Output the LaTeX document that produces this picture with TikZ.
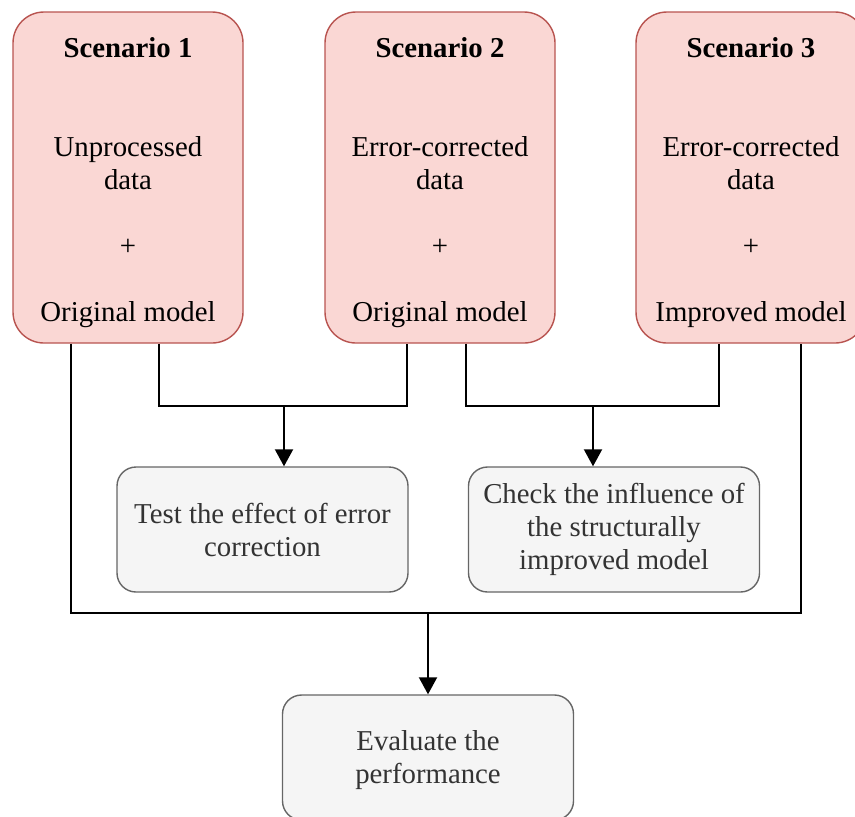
\documentclass[tikz,border=0pt]{standalone}
\usepackage{fontspec}
\setmainfont{Liberation Serif}
\usetikzlibrary{arrows.meta}
\definecolor{scenfill}{HTML}{FAD7D4}
\definecolor{scenline}{HTML}{B85450}
\definecolor{taskfill}{HTML}{F5F5F5}
\definecolor{taskline}{HTML}{666666}
\definecolor{tasktext}{HTML}{333333}

\begin{document}
\begin{tikzpicture}[x=0.5pt,y=-0.5pt,
    scenario/.style={draw=scenline,fill=scenfill,line width=0.7pt,rounded corners=15.5pt,
        minimum width=115pt,minimum height=165.5pt,align=center,inner sep=0pt,
        font=\fontsize{14.4}{16.5}\selectfont},
    task/.style={draw=taskline,fill=taskfill,text=tasktext,line width=0.7pt,rounded corners=9.5pt,
        minimum width=145.5pt,minimum height=62.5pt,align=center,inner sep=0pt,
        font=\fontsize{14.4}{16.5}\selectfont},
    wire/.style={line width=1pt},
    arrow/.style={wire,-{Triangle[length=8.5pt,width=9pt]}}]
    \useasboundingbox (0,0) rectangle (855,816);

    \node[scenario] (s1) at (128,177.5) {\rule{0pt}{15pt}\textbf{Scenario 1}\\[2\baselineskip]Unprocessed\\data\\[\baselineskip]+\\[\baselineskip]Original model};
    \node[scenario] (s2) at (440,177.5) {\rule{0pt}{15pt}\textbf{Scenario 2}\\[2\baselineskip]Error-corrected\\data\\[\baselineskip]+\\[\baselineskip]Original model};
    \node[scenario] (s3) at (751,177.5) {\rule{0pt}{15pt}\textbf{Scenario 3}\\[2\baselineskip]Error-corrected\\data\\[\baselineskip]+\\[\baselineskip]Improved model};

    \node[task] (test) at (262.5,529.5) {Test the effect of error\\correction};
    \node[task] (check) at (614,529.5) {Check the influence of\\the structurally\\improved model};
    \node[task] (eval) at (428,757.5) {\rule{0pt}{13pt}Evaluate the\\performance};

    \coordinate (m1) at (284,406);
    \coordinate (m2) at (593,406);
    \coordinate (m3) at (428,613);

    \draw[wire] (s1.south -| 159,0) |- (m1) -| (s2.south -| 407,0);
    \draw[wire] (s2.south -| 466,0) |- (m2) -| (s3.south -| 719,0);
    \draw[wire] (s1.south -| 71,0) |- (m3) -| (s3.south -| 801,0);
    \draw[arrow] (m1) -- (m1 |- test.north);
    \draw[arrow] (m2) -- (m2 |- check.north);
    \draw[arrow] (m3) -- (m3 |- eval.north);
\end{tikzpicture}
\end{document}
